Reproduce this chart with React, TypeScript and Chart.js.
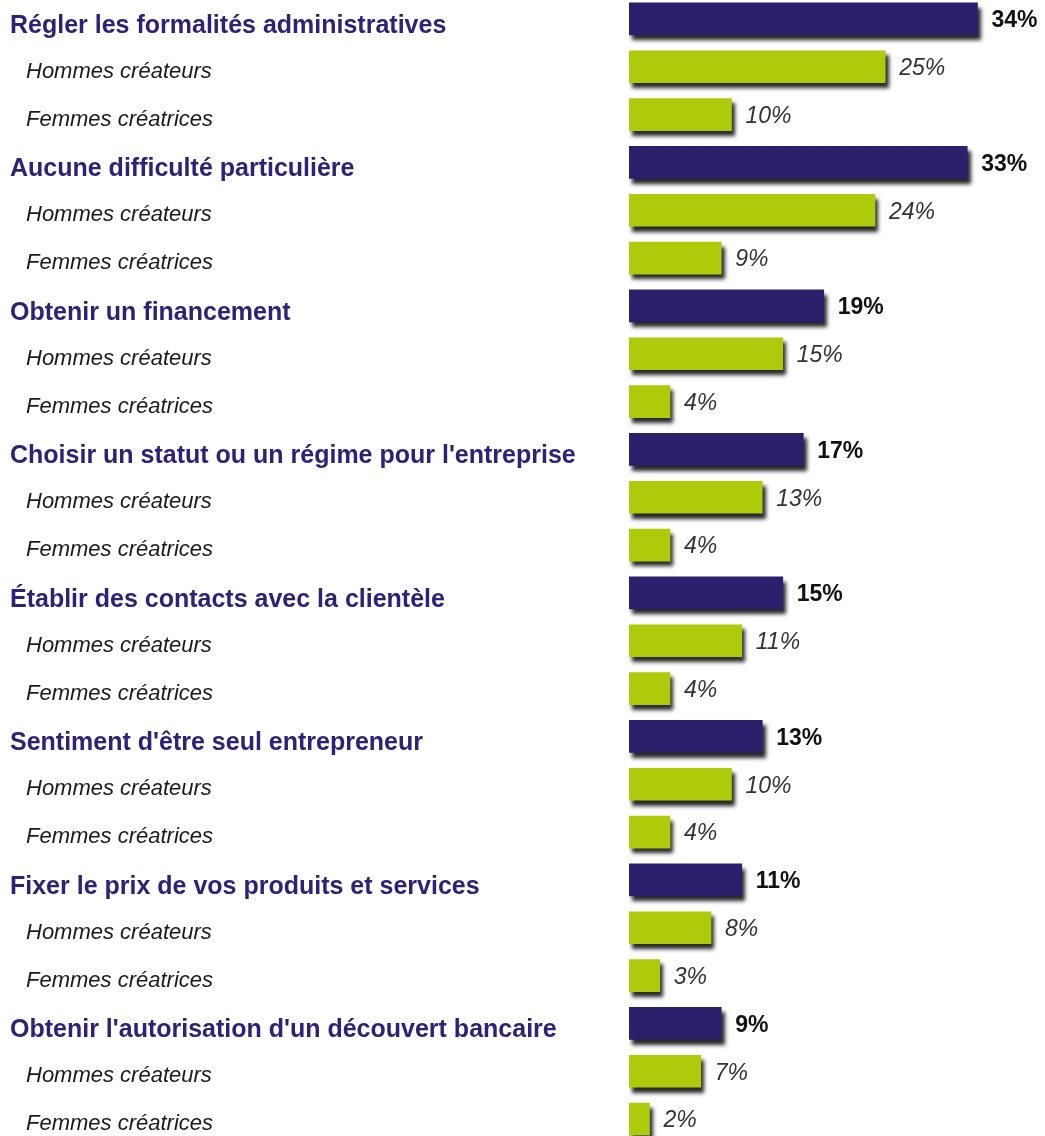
import React, { useEffect, useRef } from "react";
import { Chart, registerables } from "chart.js";

Chart.register(...registerables);

const categories = [
  "Régler les formalités administratives",
  "Aucune difficulté particulière",
  "Obtenir un financement",
  "Choisir un statut ou un régime pour l'entreprise",
  "Établir des contacts avec la clientèle",
  "Sentiment d'être seul entrepreneur",
  "Fixer le prix de vos produits et services",
  "Obtenir l'autorisation d'un découvert bancaire",
];
const totalValues = [34, 33, 19, 17, 15, 13, 11, 9];
const hommesValues = [25, 24, 15, 13, 11, 10, 8, 7];
const femmesValues = [10, 9, 4, 4, 4, 4, 3, 2];
const subLabels = ["Hommes créateurs", "Femmes créatrices"];

const PURPLE = "#2b206c";
const GREEN = "#afca0b";

type Row = { label: string; value: number; kind: "total" | "sub" };
const rows: Row[] = [];
categories.forEach((c, i) => {
  rows.push({ label: c, value: totalValues[i], kind: "total" });
  rows.push({ label: subLabels[0], value: hommesValues[i], kind: "sub" });
  rows.push({ label: subLabels[1], value: femmesValues[i], kind: "sub" });
});

const FONT = "'Liberation Sans', Arial, sans-serif";

const shadowPlugin = {
  id: "barShadow",
  beforeDatasetsDraw(chart: any) {
    const ctx = chart.ctx;
    ctx.save();
    ctx.shadowColor = "rgba(0,0,0,0.85)";
    ctx.shadowBlur = 4;
    ctx.shadowOffsetX = 3;
    ctx.shadowOffsetY = 5;
  },
  afterDatasetsDraw(chart: any) {
    chart.ctx.restore();
  },
};

const labelPlugin = {
  id: "rowLabels",
  afterDraw(chart: any) {
    const ctx = chart.ctx;
    const y = chart.scales.y;
    const x = chart.scales.x;
    ctx.save();
    ctx.textBaseline = "middle";
    ctx.textAlign = "left";
    rows.forEach((r, i) => {
      const py = y.getPixelForValue(i);
      const vx = x.getPixelForValue(r.value) + 14;
      if (r.kind === "total") {
        ctx.font = `bold 25px ${FONT}`;
        ctx.fillStyle = "#2e2276";
        ctx.fillText(r.label, 10, py + 7);
        ctx.font = `bold 23px ${FONT}`;
        ctx.fillStyle = "#111111";
        ctx.fillText(`${r.value}%`, vx, py + 2);
      } else {
        ctx.font = `italic 22px ${FONT}`;
        ctx.fillStyle = "#1a1a1a";
        ctx.fillText(r.label, 26, py + 5);
        ctx.font = `italic 23px ${FONT}`;
        ctx.fillStyle = "#333333";
        ctx.fillText(`${r.value}%`, vx, py + 2);
      }
    });
    ctx.restore();
  },
};

export default function App() {
  const ref = useRef<HTMLCanvasElement | null>(null);
  useEffect(() => {
    document.body.style.margin = "0";
    const chart = new Chart(ref.current as HTMLCanvasElement, {
      type: "bar",
      data: {
        labels: rows.map((r) => r.label),
        datasets: [
          {
            data: rows.map((r) => r.value),
            backgroundColor: rows.map((r) => (r.kind === "total" ? PURPLE : GREEN)),
            barThickness: 32,
            borderWidth: 0,
          },
        ],
      },
      options: {
        indexAxis: "y",
        animation: false,
        responsive: false,
        maintainAspectRatio: false,
        layout: { padding: { left: 629, right: 6, top: 0, bottom: 0 } },
        plugins: { legend: { display: false }, tooltip: { enabled: false } },
        scales: {
          x: { display: false, min: 0, max: 40 },
          y: { display: false },
        },
      },
      plugins: [shadowPlugin, labelPlugin],
    });
    return () => chart.destroy();
  }, []);
  return (
    <div style={{ position: "fixed", left: 0, top: -5, width: 1045, height: 1148, background: "#fff" }}>
      <canvas ref={ref} width={1045} height={1148} />
    </div>
  );
}
